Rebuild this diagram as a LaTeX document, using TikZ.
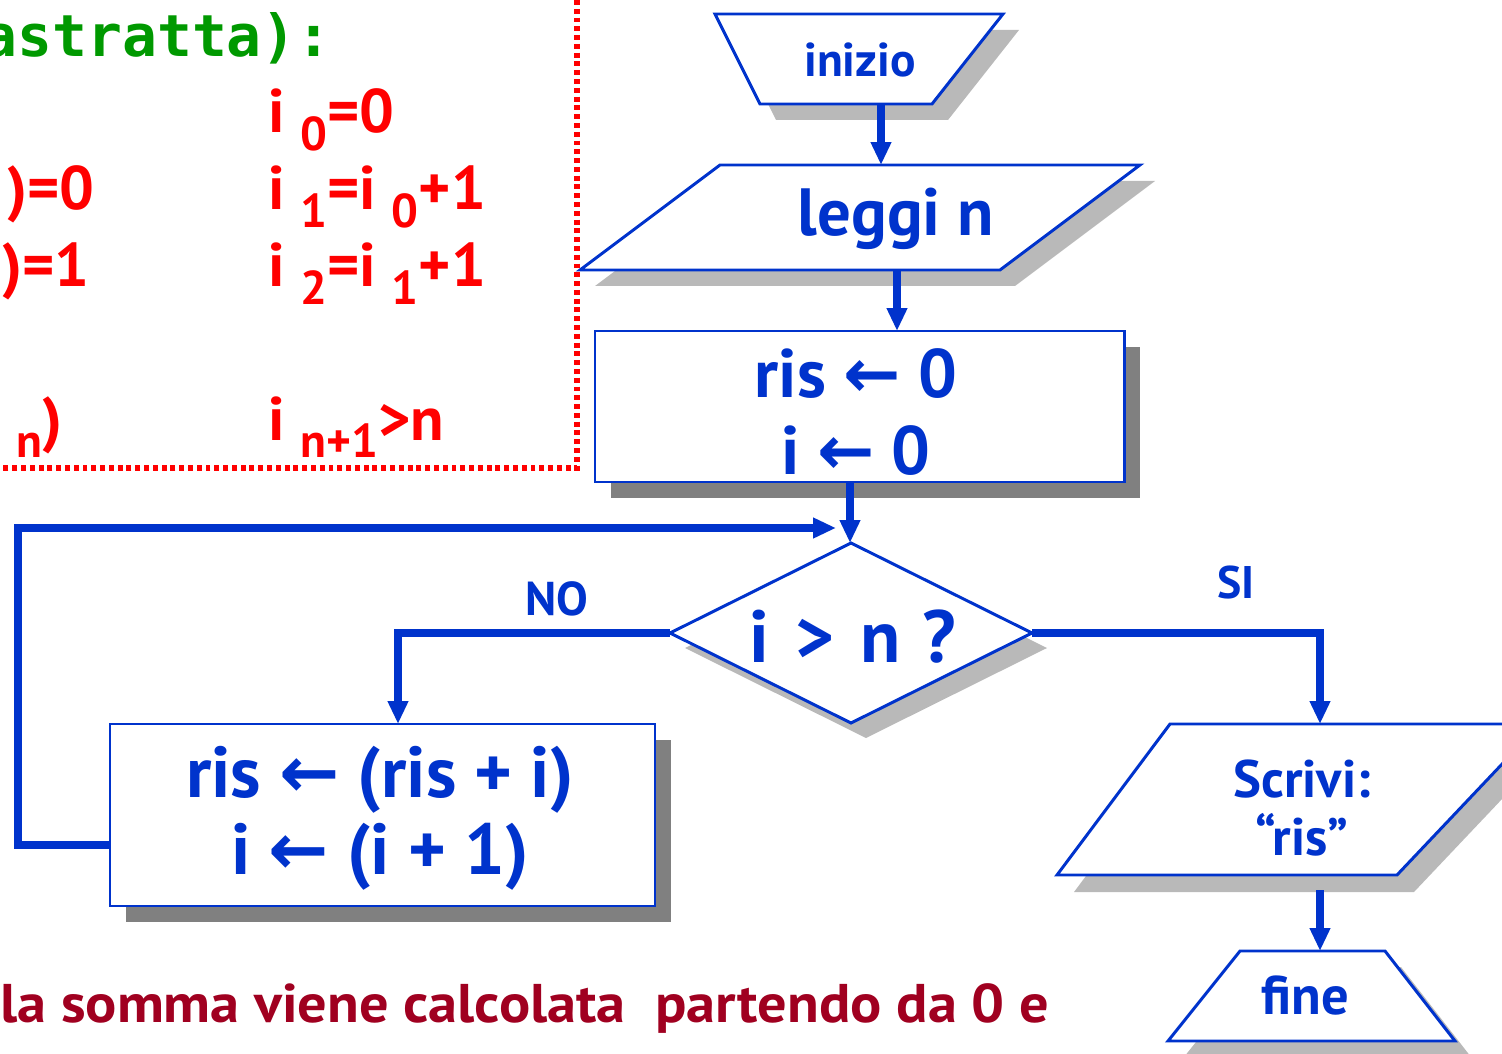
\documentclass[tikz,border=0pt]{standalone}
\usepackage{fontspec}
\setmainfont{PT Sans}
\newfontfamily\arrowfont{DejaVu Sans}
\newfontfamily\notemono{DejaVu Sans Mono}
\usetikzlibrary{arrows.meta}

\definecolor{flowblue}{RGB}{0,51,204}
\definecolor{rulered}{RGB}{255,0,0}
\definecolor{notegreen}{RGB}{0,153,0}
\definecolor{notered}{RGB}{160,0,32}

\newcommand{\getsto}{{\arrowfont\bfseries ←}}
\newcommand{\lowidx}[1]{\raisebox{-0.28em}{\fontsize{27}{27}\selectfont #1}}

\begin{document}
\begin{tikzpicture}[x=0.02cm,y=-0.02cm,
  box/.style={draw=flowblue,line width=1.7pt,fill=white},
  lightshade/.style={fill=gray!55},
  darkshade/.style={fill=gray},
  flow/.style={draw=flowblue,line width=4pt,-{Triangle[length=13pt,width=11pt]}},
  lbl/.style 2 args={text=flowblue,font=\bfseries\fontsize{#1}{#2}\selectfont,align=center,inner sep=0pt},
  rule/.style={text=rulered,font=\bfseries\fontsize{35}{40}\selectfont,inner sep=0pt}]
\useasboundingbox (0,0) rectangle (1502,1054);
\clip (0,0) rectangle (1502,1054);

% red dotted frame of the notes
\draw[rulered,line width=3pt,dash pattern=on 2.8pt off 2.2pt] (577,0) -- (577,468) -- (0,468);

% notes
\node[anchor=base east,text=notegreen,font=\notemono\bfseries\fontsize{33}{36}\selectfont,inner sep=0pt] (titolo) at (332,57) {astratta):};
\node[rule,anchor=base west] (r0) at (268,133) {i \lowidx{0}=0};
\node[rule,anchor=base west] (r1) at (268,210) {i \lowidx{1}=i \lowidx{0}+1};
\node[rule,anchor=base west] (r2) at (268,287) {i \lowidx{2}=i \lowidx{1}+1};
\node[rule,anchor=base west] (rn) at (268,440) {i \lowidx{n+1}>n};
\node[rule,anchor=base east] (l1) at (95,210) {)=0};
\node[rule,anchor=base east] (l2) at (90,287) {)=1};
\node[rule,anchor=base east] (ln) at (63,440) {\lowidx{n})};

% inizio
\fill[lightshade] (731,30) -- (1019,30) -- (948,120) -- (776,120) -- cycle;
\draw[box] (715,14) -- (1003,14) -- (932,104) -- (760,104) -- cycle;
\node[lbl={27}{32}] (inizio) at (860,60) {inizio};

% leggi n
\fill[lightshade] (735,181) -- (1155,181) -- (1015,286) -- (595,286) -- cycle;
\draw[box] (720,165) -- (1140,165) -- (1000,270) -- (580,270) -- cycle;
\node[lbl={38}{44}] (leggi) at (896,219) {leggi n};

% ris <- 0, i <- 0
\fill[darkshade] (611,347) rectangle (1140,498);
\draw[box] (595,331) rectangle (1124,482);
\node[lbl={39}{44}] (init) at (856,412) {ris \getsto{} 0\\i \getsto{} 0};

% i > n ?
\fill[lightshade] (685,648) -- (866,558) -- (1047,648) -- (866,738) -- cycle;
\draw[box] (670,633) -- (851,543) -- (1032,633) -- (851,723) -- cycle;
\node[lbl={42}{48}] (test) at (853,637) {i\hspace{0.35em}>\hspace{0.35em}n\hspace{0.3em}?};

% corpo del ciclo
\fill[darkshade] (126,740) rectangle (671,922);
\draw[box] (110,724) rectangle (655,906);
\node[lbl={41}{44}] (corpo) at (380,818) {ris \getsto{} (ris + i)\\i \getsto{} (i + 1)};

% Scrivi
\fill[lightshade] (1187,741) -- (1557,741) -- (1414,892) -- (1074,892) -- cycle;
\draw[box] (1170,724) -- (1540,724) -- (1397,875) -- (1057,875) -- cycle;
\node[lbl={30}{33}] (scrivi) at (1302,808) {Scrivi:\\“ris”};

% fine
\fill[lightshade] (1256,967) -- (1401,967) -- (1471,1057) -- (1184,1057) -- cycle;
\draw[box] (1240,951) -- (1385,951) -- (1455,1041) -- (1168,1041) -- cycle;
\node[lbl={31}{34}] (fine) at (1305,996) {fine};

% ports
\coordinate (inizio-s) at (881,104);
\coordinate (leggi-n) at (881,165);
\coordinate (leggi-s) at (897,270);
\coordinate (init-n) at (897,331);
\coordinate (init-s) at (850,482);
\coordinate (test-n) at (850,543);
\coordinate (test-w) at (670,633);
\coordinate (test-e) at (1032,633);
\coordinate (corpo-n) at (398,724);
\coordinate (corpo-w) at (110,845);
\coordinate (ritorno) at (836,528);
\coordinate (scrivi-n) at (1320,724);
\coordinate (scrivi-s) at (1320,890);
\coordinate (fine-n) at (1320,951);

\draw[flow] (inizio-s) -- (leggi-n);
\draw[flow] (leggi-s) -- (init-n);
\draw[flow] (init-s) -- (test-n);
\draw[flow] (test-w) -| (corpo-n);
\draw[flow] (test-e) -| (scrivi-n);
\draw[flow] (corpo-w) -- (18,845) |- (ritorno);
\draw[flow] (scrivi-s) -- (fine-n);

\node[lbl={27}{30}] (no) at (557,599) {NO};
\node[lbl={26}{30}] (si) at (1236,583) {SI};

% nota in fondo
\node[anchor=base west,text=notered,font=\bfseries\fontsize{31}{34}\selectfont,inner sep=0pt] (nota) at (0,1022)
  {\scalebox{1.07}[1]{la somma viene calcolata\ \ partendo da 0 e}};
\end{tikzpicture}
\end{document}
